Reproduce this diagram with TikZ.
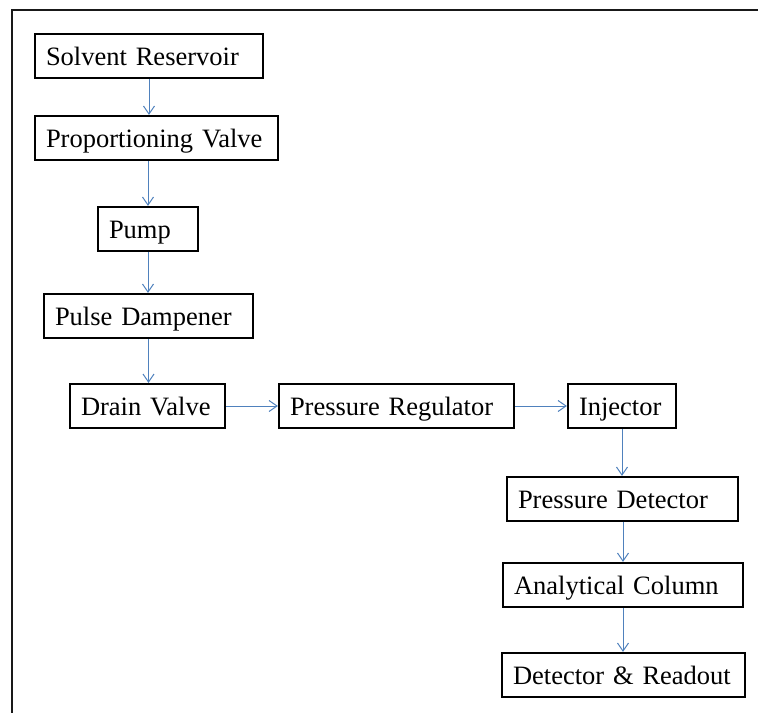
\documentclass[tikz,border=0pt]{standalone}
\usepackage{fontspec}
\setmainfont{Liberation Serif}
\usetikzlibrary{arrows.meta}
\definecolor{FlowBlue}{RGB}{79,129,189}

\begin{document}
\begin{tikzpicture}[x=1pt, y=-1pt,
		box/.style={draw=black, line width=2.2pt, minimum height=44pt, inner xsep=11pt,
			text height=18pt, text depth=0pt,
			align=left, text width=#1, font=\fontsize{26.5}{30}\selectfont},
		flow/.style={FlowBlue, line width=1pt, -{Straight Barb[length=8pt, width=11pt, line width=1pt]}}]
		\useasboundingbox (0,0) rectangle (758,713);
		% frame
		\draw[line width=2.6pt, black!90] (758,10) -- (12,10) -- (12,713);
		% left column
		\node[box=206pt] (sr) at (149,56) {Solvent Reservoir};
		\node[box=221pt] (pv) at (156.5,138) {Proportioning Valve};
		\node[box=78pt] (pump) at (148,229) {Pump};
		\node[box=187pt] (pd) at (148.5,316) {Pulse Dampener};
		\node[box=133pt] (dv) at (147.5,406) {Drain Valve};
		% middle row
		\node[box=213pt] (preg) at (396.5,406) {Pressure Regulator};
		\node[box=86pt] (inj) at (622,406) {Injector};
		% right column
		\node[box=209pt] (pdet) at (622.5,499) {Pressure Detector};
		\node[box=218pt] (ac) at (623,585) {Analytical Column};
		\node[box=221pt] (dr) at (623.5,675) {Detector \& Readout};
		% arrows
		\draw[flow] (sr.south) -- (sr.south |- pv.north);
		\draw[flow] (pump.north |- pv.south) -- (pump.north);
		\draw[flow] (pump.south) -- (pump.south |- pd.north);
		\draw[flow] (pd.south) -- (pd.south |- dv.north);
		\draw[flow] (dv.east) -- (preg.west);
		\draw[flow] (preg.east) -- (inj.west);
		\draw[flow] (inj.south) -- (inj.south |- pdet.north);
		\draw[flow] (ac.north |- pdet.south) -- (ac.north);
		\draw[flow] (ac.south) -- (ac.south |- dr.north);
	\end{tikzpicture}
\end{document}
